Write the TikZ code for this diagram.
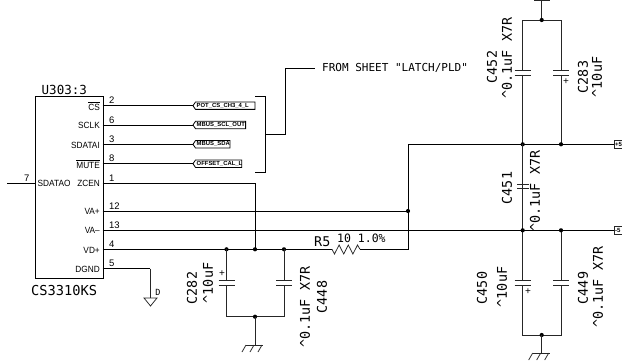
\documentclass[tikz,border=0pt]{standalone}
\usepackage{fontspec}
\setmainfont{Liberation Sans}
\newfontfamily\monof{DejaVu Sans Mono}
\usetikzlibrary{calc}
\tikzset{
  wire/.style={line width=0.9pt,black},
  thinw/.style={line width=0.75pt,black!85},
  dotn/.style={circle,fill=black,inner sep=0pt,minimum size=4.2pt},
  pinl/.style={inner sep=0pt,xscale=0.92,font=\fontsize{9}{9}\selectfont},
  pinnum/.style={inner sep=0pt,font=\fontsize{9.5}{9}\selectfont,anchor=south west},
  reftxt/.style={inner sep=0pt,font=\monof\fontsize{13.7}{14}\selectfont},
  vtxt/.style={inner sep=0pt,rotate=90,font=\monof\fontsize{13.4}{14}\selectfont},
  flagt/.style={inner sep=0pt,font=\bfseries\fontsize{5.9}{6}\selectfont},
}
\newcommand{\capv}[3]{% x, y1, y2 plates
  \draw[thinw] (#1-8,#2) -- (#1+8,#2);
  \draw[thinw] (#1-8,#3) -- (#1+8,#3);
}
\newcommand{\flagbox}[3]{% y, right x, text
  \draw[line width=0.8pt,black] (193,#1) -- (195.5,#1-3.7) -- (#2,#1-3.7) -- (#2,#1+3.7) -- (195.5,#1+3.7) -- cycle;
  \node[flagt,anchor=west] at (196.5,#1) {#3};
}
\newcommand{\hatchgnd}[2]{% x, y
  \draw[thinw] (#1-9,#2) -- (#1+8,#2);
  \draw[thinw] (#1-9,#2) -- (#1-13,#2+7);
  \draw[thinw] (#1-1,#2) -- (#1-5,#2+7);
  \draw[thinw] (#1+7,#2) -- (#1+3,#2+7);
}
\begin{document}
\begin{tikzpicture}[x=1pt,y=-1pt]
\useasboundingbox (0,0) rectangle (622,361);
\fill[white] (0,0) rectangle (622,361);
% IC
\node[draw=black,line width=0.8pt,minimum width=67.5pt,minimum height=182pt,inner sep=0pt,anchor=north west] (ic) at (35,96) {};
\node[reftxt,anchor=west,font=\monof\fontsize{12.5}{13}\selectfont] (ictitle) at (41.5,90) {U303:3};
\node[reftxt,anchor=west] (icname) at (31,291) {CS3310KS};
% pin names
\node[pinl,anchor=east] at (100,106) {$\overline{\mbox{CS}}$};
\node[pinl,anchor=east] at (100,125.5) {SCLK};
\node[pinl,anchor=east] at (100,145) {SDATAI};
\node[pinl,anchor=east] at (100,164) {$\overline{\mbox{MUTE}}$};
\node[pinl,anchor=east] at (100,183.5) {ZCEN};
\node[pinl,anchor=west] at (37.5,183.5) {SDATAO};
\node[pinl,anchor=east] at (100,211.5) {VA+};
\node[pinl,anchor=east] at (100,230.5) {VA--};
\node[pinl,anchor=east] at (100,250) {VD+};
\node[pinl,anchor=east] at (100,269) {DGND};
% pin wires
\foreach \y/\n in {105.7/2,125/6,144.3/3,163.7/8,183/1,211/12,230.3/13,249.3/4,268.7/5}
  \node[pinnum] at (109,\y-1.5) {\n};
\node[pinnum] at (24,183-1.5) {7};
\coordinate (pinsd) at (7,183);
\draw[wire] (pinsd) -- (35,183);
\flagbox{105.7}{255}{POT\_CS\_CH3\_4\_L}
\flagbox{125}{245.6}{MBUS\_SCL\_OUT}
\flagbox{144.3}{230}{MBUS\_SDA}
\flagbox{163.7}{241.7}{OFFSET\_CAL\_L}
\draw[wire] (102.7,105.7) -- (193,105.7);
\draw[wire] (102.7,125) -- (193,125);
\draw[wire] (102.7,144.3) -- (193,144.3);
\draw[wire] (102.7,163.7) -- (193,163.7);
% bracket
\draw[wire] (255,96) -- (265,96) -- (265,172) -- (255,172);
\draw[wire] (265,134) -- (285,134) -- (285,68) -- (315,68);
\node[inner sep=0pt,anchor=west,font=\monof\fontsize{11}{11}\selectfont] (from) at (322,68) {FROM SHEET "LATCH/PLD"};
% rails
\draw[wire] (102.7,183) -- (255,183) -- (255,249.3);
\draw[wire] (102.7,211) -- (408,211);
\draw[wire] (102.7,230.3) -- (614,230.3);
\draw[wire] (102.7,249.3) -- (332,249.3);
\draw[thinw] (332,249.3) -- ++(2.5,4.7) -- ++(4.6,-9) -- ++(4.6,9) -- ++(4.6,-9) -- ++(4.6,9) -- ++(4.6,-9) -- ++(2.5,4.3);
\draw[wire] (360,249.3) -- (408,249.3) -- (408,144.3) -- (614,144.3);
\node[dotn] at (408,211) {};
\node[dotn] at (226.5,249.3) {};
\node[dotn] at (255,249.3) {};
\node[dotn] at (284,249.3) {};
\node[inner sep=0pt,anchor=west,font=\monof\fontsize{13.4}{14}\selectfont] at (314,242) {R5};
\node[inner sep=0pt,anchor=west,font=\monof\fontsize{11.5}{12}\selectfont] at (337,238) {10 1.0\%};
% DGND
\draw[wire] (102.7,268.7) -- (150,268.7);
\draw[thinw] (150,268.7) -- (150,298);
\draw[thinw] (144,298) -- (157,298) -- (150.5,306) -- cycle;
\node[inner sep=0pt,font=\monof\fontsize{8.5}{9}\selectfont] at (158,292) {D};
% left caps
\draw[thinw] (226.5,249.3) -- (226.5,280);
\draw[thinw] (226.5,285) -- (226.5,316.7) -- (284,316.7) -- (284,285);
\draw[thinw] (284,280) -- (284,249.3);
\capv{226.5}{280}{285}
\capv{284}{280}{285}
\node[inner sep=0pt,font=\fontsize{10}{10}\selectfont] at (222,273.5) {+};
\node[dotn] at (255,316.7) {};
\draw[thinw] (255,316.7) -- (255,345);
\hatchgnd{255}{345}
\node[vtxt] at (192,288) {C282};
\node[vtxt] at (208,283) {\textasciicircum10uF};
\node[vtxt] at (305,307) {\textasciicircum0.1uF X7R};
\node[vtxt] at (322,297) {C448};
% right caps top
\draw[thinw] (541.7,0) -- (541.7,20);
\draw[thinw] (534,0.5) -- (550,0.5);
\draw[thinw] (522.7,70) -- (522.7,20) -- (561,20) -- (561,70);
\draw[thinw] (522.7,75) -- (522.7,144.3);
\draw[thinw] (561,75) -- (561,144.3);
\capv{522.7}{70}{75}
\capv{561}{70}{75}
\node[inner sep=0pt,font=\fontsize{10}{10}\selectfont] at (566,82) {+};
\node[dotn] at (541.7,20) {};
\node[dotn] at (522.7,144.3) {};
\node[dotn] at (561,144.3) {};
\node[vtxt] at (492,67) {C452};
\node[vtxt] at (507,58) {\textasciicircum0.1uF X7R};
\node[vtxt] at (583,77) {C283};
\node[vtxt] at (597,77) {\textasciicircum10uF};
% C451
\draw[thinw] (522.7,144.3) -- (522.7,230.3);
\draw[thinw] (517,184) -- (529,184);
\draw[thinw] (517,188.5) -- (529,188.5);
\node[vtxt] at (507,188) {C451};
\node[vtxt] at (535,191) {\textasciicircum0.1uF X7R};
% lower caps
\draw[thinw] (522.7,230.3) -- (522.7,280);
\draw[thinw] (522.7,285) -- (522.7,335) -- (561,335) -- (561,285);
\draw[thinw] (561,280) -- (561,230.3);
\capv{522.7}{280}{285}
\capv{561}{280}{285}
\node[inner sep=0pt,font=\fontsize{10}{10}\selectfont] at (528,292) {+};
\node[dotn] at (522.7,230.3) {};
\node[dotn] at (561,230.3) {};
\node[dotn] at (541.7,335) {};
\draw[thinw] (541.7,335) -- (541.7,353);
\hatchgnd{541.7}{353}
\node[vtxt] at (482,288) {C450};
\node[vtxt] at (502,287) {\textasciicircum10uF};
\node[vtxt] at (583,288) {C449};
\node[vtxt] at (598,287) {\textasciicircum0.1uF X7R};
% off-sheet flags
\draw[thinw] (614,140.5) rectangle (622,148.5);
\draw[thinw] (614,226.5) rectangle (622,234.5);
\node[inner sep=0pt,font=\bfseries\fontsize{6}{6}\selectfont,anchor=west] at (615,144.5) {+5};
\node[inner sep=0pt,font=\bfseries\fontsize{6}{6}\selectfont,anchor=west] at (615,230.5) {-5};
\end{tikzpicture}
\end{document}
